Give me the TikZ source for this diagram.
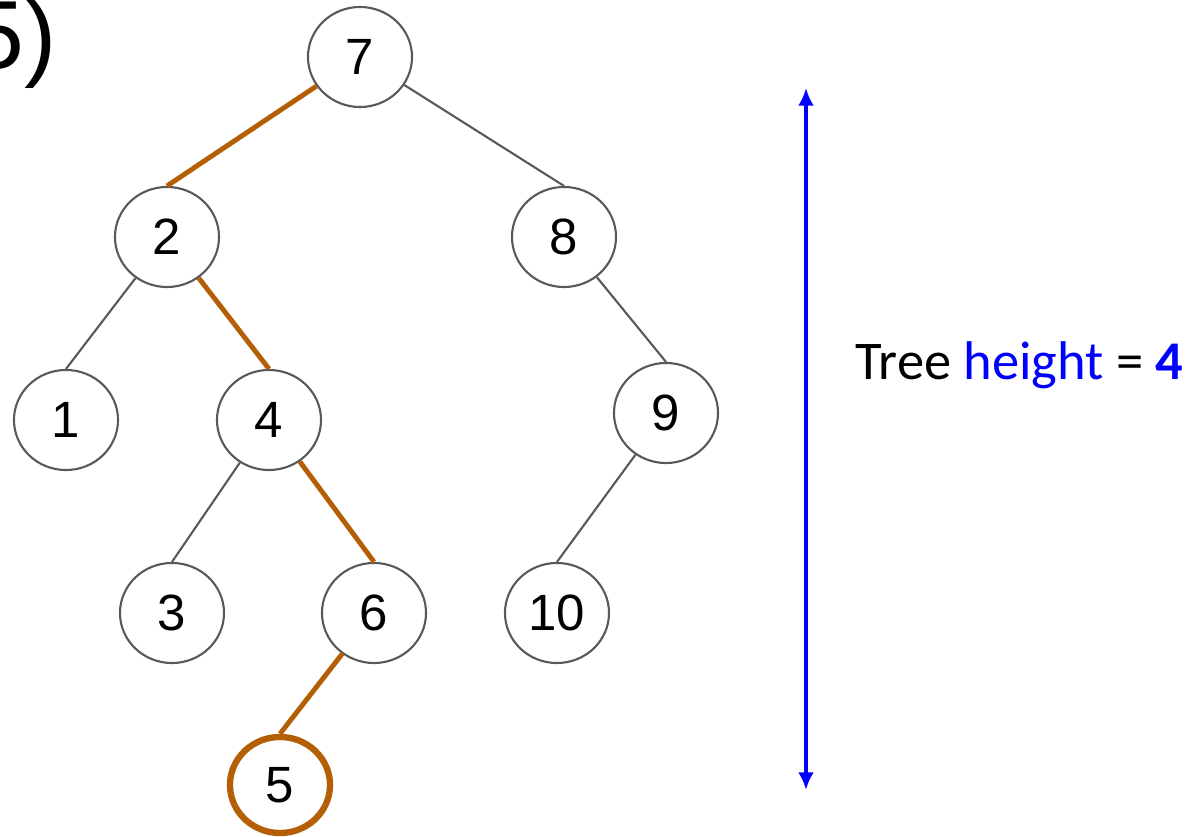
\documentclass[tikz,border=0pt]{standalone}
\usepackage{fontspec}
\setmainfont{Liberation Sans}
\newfontfamily\calibri{Carlito}
\usetikzlibrary{shapes.geometric,arrows.meta}

\definecolor{edgegray}{HTML}{595959}
\definecolor{pathorange}{HTML}{B45F06}
\definecolor{arrowblue}{HTML}{0000FF}

\begin{document}
\begin{tikzpicture}[x=0.01cm, y=-0.01cm,
	treenode/.style={ellipse, draw=edgegray, line width=0.6pt, minimum width=1.04cm, minimum height=1cm, inner sep=0pt, font=\fontsize{14.5}{16}\selectfont},
	grayedge/.style={draw=edgegray, line width=0.6pt},
	pathedge/.style={draw=pathorange, line width=1.4pt},
	]

	\useasboundingbox (0,0) rectangle (1193,837);

	% label cut at the left border
	\node[anchor=base west, inner sep=0pt, font=\fontsize{27.5}{30}\selectfont] (partlabel) at (-30,69) {5)};

	% the nodes of the tree
	\node[treenode] (n7) at (360,57) {7};
	\node[treenode] (n2) at (167,237) {2};
	\node[treenode] (n8) at (564,237) {8};
	\node[treenode] (n1) at (66,420) {1};
	\node[treenode] (n4) at (269,420) {4};
	\node[treenode] (n9) at (666,413) {9};
	\node[treenode] (n3) at (172,613) {3};
	\node[treenode] (n6) at (374,613) {6};
	\node[treenode] (n10) at (557,613) {10};
	\node[treenode, draw=pathorange, line width=1.8pt, minimum width=1.0cm, minimum height=0.96cm] (n5) at (280,785) {5};

	% plain edges
	\foreach \a/\b in {n7/n8, n8/n9, n9/n10, n2/n1, n4/n3}
		\draw[grayedge] (\a) -- (\b.north);

	% longest path down to 5
	\foreach \a/\b in {n7/n2, n2/n4, n4/n6, n6/n5}
		\draw[pathedge] (\a) -- (\b.north);

	% height arrow
	\coordinate (top) at (806,88);
	\coordinate (bottom) at (806,790);
	\draw[arrowblue, line width=1.2pt, {Latex[length=5pt,width=4.5pt]}-{Latex[length=5pt,width=4.5pt]}] (top) -- (bottom);

	\node[anchor=base west, inner sep=0pt, font=\calibri\fontsize{15.5}{17}\selectfont] (heightlabel) at (855,380)
		{Tree \textcolor{arrowblue}{height} = \textcolor{arrowblue}{\bfseries 4}};

\end{tikzpicture}
\end{document}
